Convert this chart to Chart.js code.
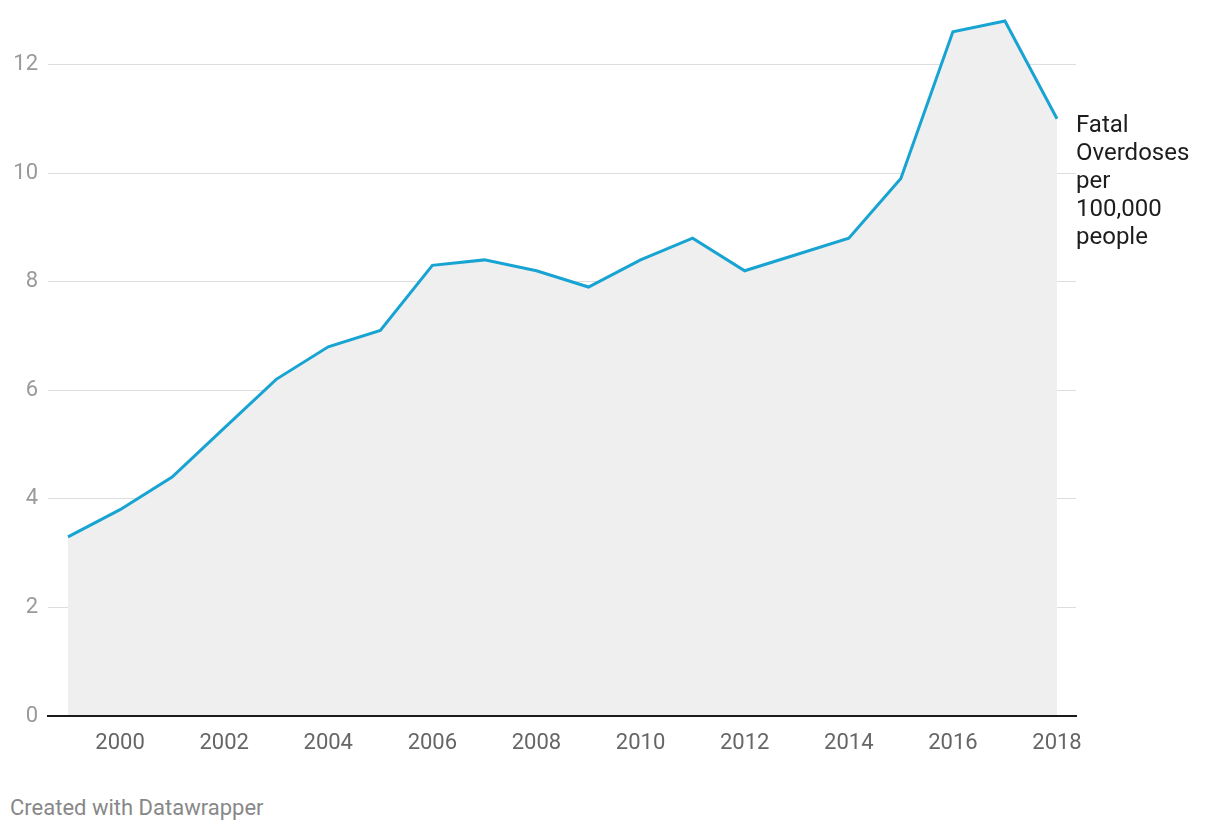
<!DOCTYPE html>
<html>
<head>
<meta charset="utf-8">
<script src="https://cdn.jsdelivr.net/npm/chart.js@4"></script>
<style>
  html, body { margin: 0; padding: 0; background: #fff; }
  #wrap { position: absolute; left: 0; top: -12px; width: 1220px; height: 772px; }
  #credit {
    position: absolute; left: 10px; top: 795px;
    font-family: Roboto, sans-serif; font-size: 22px; color: #888;
  }
</style>
</head>
<body>
<div id="wrap"><canvas id="chart"></canvas></div>
<div id="credit">Created with Datawrapper</div>
<script>
const years = [1999, 2000, 2001, 2002, 2003, 2004, 2005, 2006, 2007, 2008,
               2009, 2010, 2011, 2012, 2013, 2014, 2015, 2016, 2017, 2018];
const overdoseRate = [3.3, 3.8, 4.4, 5.3, 6.2, 6.8, 7.1, 8.3, 8.4, 8.2,
                      7.9, 8.4, 8.8, 8.2, 8.5, 8.8, 9.9, 12.6, 12.8, 11.0];
const xTickYears = [2000, 2002, 2004, 2006, 2008, 2010, 2012, 2014, 2016, 2018];
const yTickValues = [0, 2, 4, 6, 8, 10, 12];
const seriesLabel = ['Fatal', 'Overdoses', 'per', '100,000', 'people'];

// label next to the last point
const endLabel = {
  id: 'endLabel',
  afterDatasetsDraw(chart) {
    const meta = chart.getDatasetMeta(0);
    const last = meta.data[meta.data.length - 1];
    const ctx = chart.ctx;
    ctx.save();
    ctx.font = '24px Roboto';
    ctx.fillStyle = '#1d1d1d';
    ctx.textBaseline = 'middle';
    seriesLabel.forEach((line, i) => {
      ctx.fillText(line, last.x + 19, last.y + 7 + i * 28);
    });
    ctx.restore();
  }
};

function createChart(chartId) {
  const ctx = document.getElementById(chartId);
  return new Chart(ctx, {
    type: 'line',
    data: {
      datasets: [{
        data: years.map((y, i) => ({ x: y, y: overdoseRate[i] })),
        borderColor: '#18a4d2',
        borderWidth: 3,
        backgroundColor: '#efefef',
        fill: 'origin',
        pointRadius: 0,
        tension: 0
      }]
    },
    options: {
      responsive: true,
      maintainAspectRatio: false,
      animation: false,
      layout: { padding: { top: 0, right: 144, bottom: 0, left: 0 } },
      plugins: { legend: { display: false }, tooltip: { enabled: false } },
      scales: {
        x: {
          type: 'linear',
          min: 1998.616,
          max: 2018.365,
          afterBuildTicks: (scale) => { scale.ticks = xTickYears.map(v => ({ value: v })); },
          afterFit: (scale) => { scale.height = 44; },
          grid: { display: false, drawTicks: false },
          border: { display: true, color: '#1a1a1a', width: 2, z: 1 },
          ticks: {
            padding: 14,
            maxRotation: 0,
            color: '#666',
            font: { family: 'Roboto', size: 22 },
            callback: (v) => String(v)
          }
        },
        y: {
          min: 0,
          max: 12.98,
          afterBuildTicks: (scale) => { scale.ticks = yTickValues.map(v => ({ value: v })); },
          afterFit: (scale) => { scale.width = 48; },
          grid: {
            drawTicks: false,
            color: (c) => c.tick && c.tick.value === 0 ? 'rgba(0,0,0,0)' : '#dddddd',
            lineWidth: 1
          },
          border: { display: false },
          ticks: {
            padding: 10,
            color: '#9a9a9a',
            font: { family: 'Roboto', size: 22 }
          }
        }
      }
    },
    plugins: [endLabel]
  });
}

createChart('chart');
</script>
</body>
</html>
